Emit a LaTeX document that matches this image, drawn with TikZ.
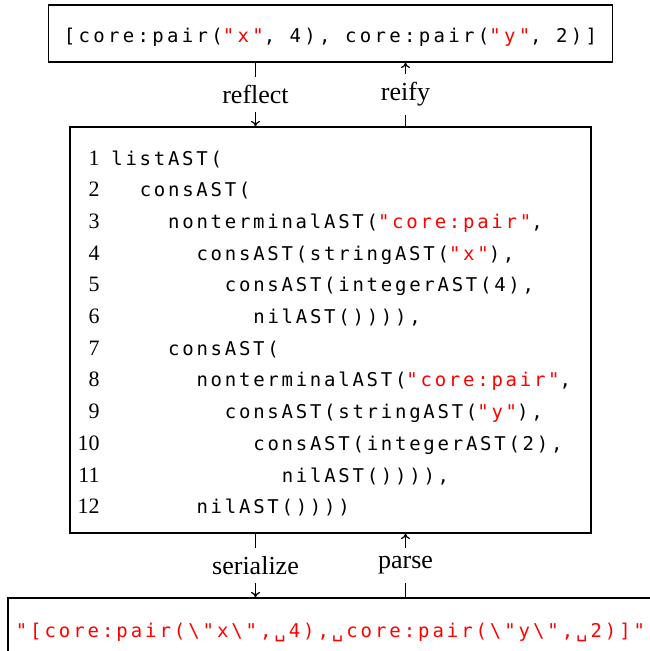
\documentclass[tikz,border=0pt]{standalone}
\usepackage{fontspec}
\setmainfont{Liberation Serif}
\newfontfamily\codefont{DejaVu Sans Mono}[LetterSpace=14.5]
\usetikzlibrary{arrows.meta}

\newcommand\strlit[1]{\textcolor{red}{#1}}
\newcommand\blank{\hspace*{0.29cm}}

\begin{document}
\begin{tikzpicture}
  \tikzstyle{box}   =[draw, line width=0.7pt, rectangle, inner sep=0pt]
  \tikzstyle{code}  =[inner sep=0pt, font=\codefont\fontsize{10.8}{13}\selectfont]
  \tikzstyle{lineno}=[inner sep=0pt, font=\fontsize{12.5}{14}\selectfont]
  \tikzstyle{lbl}   =[fill=white, inner xsep=1pt, inner ysep=0.17cm, font=\fontsize{14.8}{17}\selectfont]
  \tikzstyle{conv}  =[line width=0.7pt, -{To[length=1.1mm,width=1.8mm]}]
  \useasboundingbox (0,0) rectangle (13,-13.02);
  \clip (0,0) rectangle (13,-13.02);
  % the value, its AST and its string form
  \node[box, code, minimum width=11.28cm, minimum height=1.14cm, text height=0.44cm, text depth=0.06cm,
        font=\codefont\addfontfeature{LetterSpace=17.5}\fontsize{10.8}{13}\selectfont](val) at (6.61,-0.67)
    {[core:pair(\strlit{"x"},\blank 4),\blank core:pair(\strlit{"y"},\blank 2)]};
  \node[box, minimum width=10.42cm, minimum height=8.12cm](ast) at (6.61,-6.6) {};
  \node[box, code, minimum width=12.9cm, minimum height=1.36cm,
        font=\codefont\addfontfeature{LetterSpace=15.5}\fontsize{10.8}{13}\selectfont](str) at (6.61,-12.64)
    {\strlit{"[core:pair(\textbackslash"x\textbackslash",\textvisiblespace 4),\textvisiblespace core:pair(\textbackslash"y\textbackslash",\textvisiblespace 2)]"}};
  % numbered lines of the AST, indented by characters
  \foreach \n/\ind/\src in {
      1/0/{listAST(},
      2/2/{consAST(},
      3/4/{nonterminalAST(\strlit{"core:pair"},},
      4/6/{consAST(stringAST(\strlit{"x"}),},
      5/8/{consAST(integerAST(4),},
      6/10/{nilAST()))),},
      7/4/{consAST(},
      8/6/{nonterminalAST(\strlit{"core:pair"},},
      9/8/{consAST(stringAST(\strlit{"y"}),},
      10/10/{consAST(integerAST(2),},
      11/12/{nilAST()))),},
      12/6/{nilAST())))}} {
    \node[lineno, anchor=base east](n\n) at (2.0,{-3.30-(\n-1)*0.634}) {\n};
    \node[code, anchor=base west](c\n) at ({2.22+\ind*0.284},{-3.30-(\n-1)*0.634}) {\src};
  }
  \draw[conv] ([xshift=-1.5cm]val.south) -- node[lbl]{reflect} ([xshift=-1.5cm]ast.north);
  \draw[conv] ([xshift=1.5cm]ast.north) -- node[lbl]{reify} ([xshift=1.5cm]val.south);
  \draw[conv] ([xshift=-1.5cm]ast.south) -- node[lbl]{serialize} ([xshift=-1.5cm]str.north);
  \draw[conv] ([xshift=1.5cm]str.north) -- node[lbl]{parse} ([xshift=1.5cm]ast.south);
\end{tikzpicture}
\end{document}
